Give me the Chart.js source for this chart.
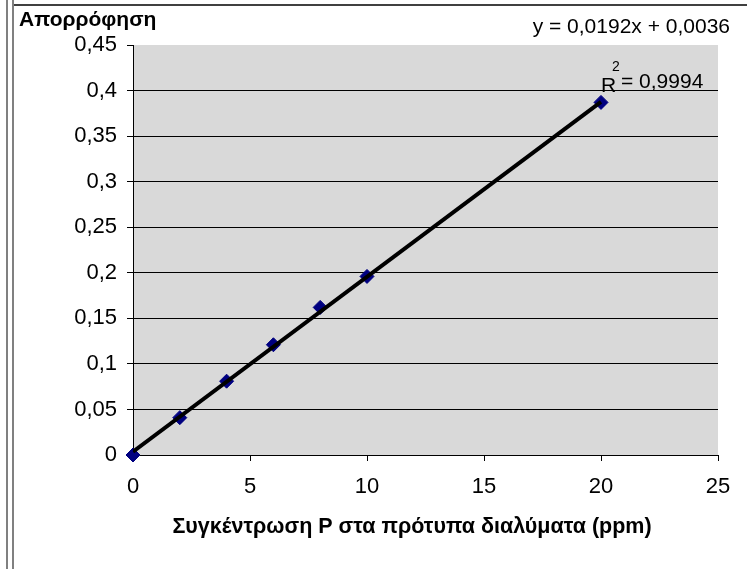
<!DOCTYPE html>
<html>
<head>
<meta charset="utf-8">
<script src="https://cdn.jsdelivr.net/npm/chart.js@4.4.1/dist/chart.umd.min.js"></script>
<style>
  body { margin: 0; background: #fff; }
  #wrap { width: 747px; height: 569px; }
</style>
</head>
<body>
<div id="wrap"><canvas id="myChart" width="747" height="569"></canvas></div>
<script>
// calibration data: P standards vs absorbance
var concentration = [0, 2, 4, 6, 8, 10, 20];
var absorbance = [0, 0.041, 0.081, 0.121, 0.162, 0.196, 0.387];
// linear trendline as printed on the chart
var slope = 0.0192;
var intercept = 0.0036;
var trendX = [0, 20];
var yTicks = [0, 0.05, 0.1, 0.15, 0.2, 0.25, 0.3, 0.35, 0.4, 0.45];
var xTicks = [0, 5, 10, 15, 20, 25];
var yTitle = "Απορρόφηση";
var xTitle = "Συγκέντρωση P στα πρότυπα διαλύματα (ppm)";
var eqText = "y = 0,0192x + 0,0036";
var r2Text = "= 0,9994";

var points = [];
for (var i = 0; i < concentration.length; i++) {
  points.push({x: concentration[i], y: absorbance[i]});
}
var trend = [];
for (var j = 0; j < trendX.length; j++) {
  trend.push({x: trendX[j], y: slope * trendX[j] + intercept});
}

function comma(v) {
  return String(Number(v.toFixed(2))).replace(".", ",");
}

var FONT = "'Liberation Sans', Arial, sans-serif";

var decor = {
  id: "decor",
  beforeDraw: function(chart) {
    var a = chart.chartArea, ctx = chart.ctx;
    ctx.save();
    ctx.fillStyle = "#d9d9d9";
    ctx.fillRect(a.left, a.top, a.right - a.left, a.bottom - a.top);
    ctx.restore();
  },
  afterDraw: function(chart) {
    var ctx = chart.ctx;
    ctx.save();
    // frame
    ctx.strokeStyle = "#808080";
    ctx.lineWidth = 2;
    ctx.beginPath();
    ctx.moveTo(7, 0); ctx.lineTo(7, 569);
    ctx.moveTo(13, 0); ctx.lineTo(13, 569);
    ctx.stroke();
    ctx.strokeStyle = "#000";
    ctx.lineWidth = 1.5;
    ctx.beginPath();
    ctx.moveTo(14, 5); ctx.lineTo(747, 5);
    ctx.stroke();

    ctx.fillStyle = "#000";
    ctx.textBaseline = "middle";
    ctx.font = "bold 21px " + FONT;
    ctx.textAlign = "left";
    ctx.fillText(yTitle, 19, 20);
    ctx.font = "bold 21.5px " + FONT;
    ctx.textAlign = "center";
    ctx.fillText(xTitle, 412, 527);

    ctx.font = "21px " + FONT;
    ctx.textAlign = "right";
    ctx.fillText(eqText, 730, 27);
    ctx.textBaseline = "alphabetic";
    ctx.textAlign = "left";
    ctx.fillText("R", 601, 92);
    ctx.fillText(r2Text, 621, 88);
    ctx.font = "14px " + FONT;
    ctx.fillText("2", 612, 71);
    ctx.restore();
  }
};

new Chart("myChart", {
  type: "scatter",
  data: {
    datasets: [{
      type: "line",
      data: trend,
      borderColor: "#000",
      borderWidth: 4,
      pointRadius: 0,
      showLine: true,
      fill: false,
      order: 0
    }, {
      data: points,
      pointStyle: "rectRot",
      pointRadius: 7,
      backgroundColor: "#000080",
      borderColor: "#000080",
      borderWidth: 1,
      clip: false,
      order: 1
    }]
  },
  options: {
    responsive: false,
    animation: false,
    layout: {padding: {top: 45, right: 29, left: 0, bottom: 0}},
    plugins: {
      legend: {display: false},
      tooltip: {enabled: false},
      title: {display: false}
    },
    scales: {
      x: {
        type: "linear",
        min: 0, max: 25,
        afterFit: function(s) { s.height = 114; },
        afterBuildTicks: function(s) { s.ticks = xTicks.map(function(v) { return {value: v}; }); },
        border: {display: true, color: "#000", width: 1},
        grid: {drawOnChartArea: false, drawTicks: true, tickLength: 6, tickColor: "#000"},
        ticks: {color: "#000", padding: 13, font: {family: FONT, size: 22}}
      },
      y: {
        min: 0, max: 0.45,
        afterFit: function(s) { s.width = 133; },
        afterBuildTicks: function(s) { s.ticks = yTicks.map(function(v) { return {value: v}; }); },
        border: {display: true, color: "#000", width: 1},
        grid: {
          tickLength: 6,
          tickColor: "#000",
          color: function(c) { return (c.tick && c.tick.value >= 0.449) ? "rgba(0,0,0,0)" : "#000"; }
        },
        ticks: {
          color: "#000", padding: 10, font: {family: FONT, size: 22},
          callback: function(v) { return comma(v); }
        }
      }
    }
  },
  plugins: [decor]
});
</script>
</body>
</html>
